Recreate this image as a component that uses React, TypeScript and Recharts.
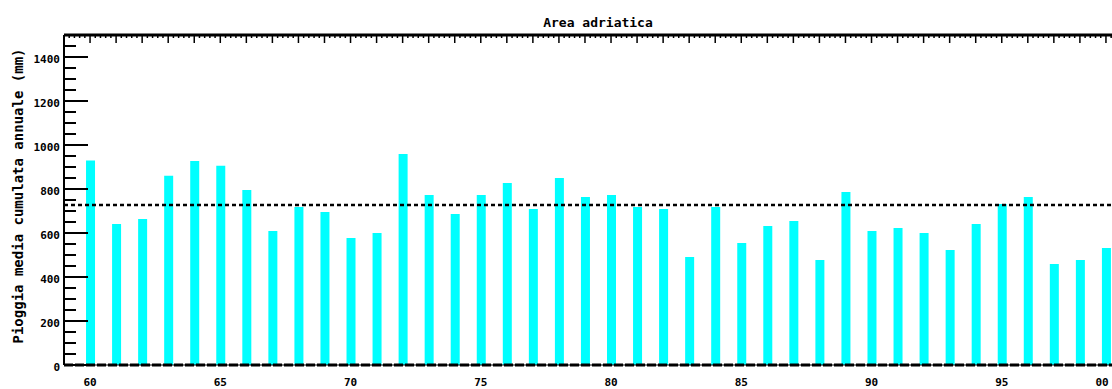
import React from 'react';
import { ComposedChart, Bar, XAxis, YAxis, ReferenceLine } from 'recharts';

// years 1960-1999, two-digit as on the plot
const YEARS = [
  60, 61, 62, 63, 64, 65, 66, 67, 68, 69,
  70, 71, 72, 73, 74, 75, 76, 77, 78, 79,
  80, 81, 82, 83, 84, 85, 86, 87, 88, 89,
  90, 91, 92, 93, 94, 95, 96, 97, 98, 99,
];
// annual cumulated mean rain (mm)
const RAIN = [
  930, 641, 664, 860, 927, 906, 795, 609, 718, 695,
  577, 600, 959, 773, 686, 773, 827, 709, 850, 764,
  773, 718, 709, 491, 718, 555, 632, 655, 477, 786,
  609, 623, 600, 523, 641, 732, 764, 459, 477, 532,
];
const MEAN_RAIN = 727;

const X_TICKS = [60, 65, 70, 75, 80, 85, 90, 95, 100];
const X_LABELS = ['60', '65', '70', '75', '80', '85', '90', '95', '00'];
const Y_LABELS = [0, 200, 400, 600, 800, 1000, 1200, 1400];

const TITLE = 'Area adriatica';
const Y_TITLE = 'Pioggia media cumulata annuale (mm)';

const FONT = '"DejaVu Sans Mono", monospace';

// minor ticks: every 50 mm on y, every 1/5 year on the top axis
const Y_MINOR = Array.from({ length: 31 }, (_, i) => i * 50);
const TOP_MINOR = Array.from({ length: 41 * 5 + 1 }, (_, i) => Math.round((59 + i / 5) * 10) / 10);

const data = YEARS.map((y, i) => ({ year: y, rain: RAIN[i] }));

const LeftTick = (props: any) => {
  const { x, y, payload } = props;
  const v = payload.value;
  const major = Y_LABELS.includes(v);
  return (
    <g>
      <line x1={x} x2={x + (major ? 24 : 12)} y1={y} y2={y} stroke="#000" strokeWidth={2} />
      {major && (
        <text x={x - 4} y={y + 2} textAnchor="end" dominantBaseline="central"
          fontFamily={FONT} fontWeight="bold" fontSize={11} fill="#000">
          {v}
        </text>
      )}
    </g>
  );
};

const RightTick = (props: any) => {
  const { x, y, payload } = props;
  const major = Y_LABELS.includes(payload.value);
  return <line x1={x} x2={x - (major ? 24 : 12)} y1={y} y2={y} stroke="#000" strokeWidth={2} />;
};

const TopTick = (props: any) => {
  const { x, y, payload } = props;
  const v = payload.value;
  const major = Math.abs(v - Math.round(v)) < 1e-6;
  return <line x1={x} x2={x} y1={y} y2={y + (major ? 8 : 3)} stroke="#000" strokeWidth={1.5} />;
};

const BottomTick = (props: any) => {
  const { x, y, payload } = props;
  const idx = X_TICKS.indexOf(payload.value);
  // last label sits at the clipped right edge
  const tx = Math.min(x, 1102);
  return (
    <text x={tx} y={y + 17} textAnchor="middle" dominantBaseline="central"
      fontFamily={FONT} fontWeight="bold" fontSize={11} fill="#000">
      {X_LABELS[idx]}
    </text>
  );
};

export default function App() {
  return (
    <div style={{ position: 'absolute', left: 0, top: 0, width: 1112, height: 389, overflow: 'hidden', background: '#fff' }}>
      <ComposedChart width={1140} height={389} data={data} margin={{ top: 34, right: 7, bottom: 23, left: 0 }}>
        <XAxis
          dataKey="year"
          type="number"
          domain={[59, 100]}
          ticks={X_TICKS}
          interval={0}
          height={1}
          tickSize={0}
          tickMargin={0}
          tickLine={false}
          tick={BottomTick}
          axisLine={{ stroke: '#000', strokeWidth: 1 }}
        />
        <XAxis
          xAxisId="top"
          dataKey="year"
          orientation="top"
          type="number"
          domain={[59, 100]}
          ticks={TOP_MINOR}
          interval={0}
          height={1}
          tickSize={0}
          tickMargin={0}
          tickLine={false}
          tick={TopTick}
          axisLine={{ stroke: '#000', strokeWidth: 3 }}
          label={{
            content: (p: any) => {
              const vb = p.viewBox || { x: 64, y: 34, width: 1069 };
              return (
                <text x={vb.x + vb.width / 2} y={22} textAnchor="middle" dominantBaseline="central"
                  fontFamily={FONT} fontWeight="bold" fontSize={13} fill="#000">
                  {TITLE}
                </text>
              );
            },
          }}
        />
        <YAxis
          type="number"
          domain={[0, 1500]}
          ticks={Y_MINOR}
          interval={0}
          width={64}
          tickSize={0}
          tickMargin={0}
          tickLine={false}
          tick={LeftTick}
          axisLine={{ stroke: '#000', strokeWidth: 2 }}
          label={{
            content: (p: any) => {
              const vb = p.viewBox || { x: 0, y: 35, width: 64, height: 330 };
              return (
                <text transform={`translate(18, ${vb.y + vb.height / 2 - 4}) rotate(-90)`}
                  textAnchor="middle" dominantBaseline="central"
                  fontFamily={FONT} fontWeight="bold" fontSize={14} fill="#000">
                  {Y_TITLE}
                </text>
              );
            },
          }}
        />
        <YAxis
          yAxisId="right"
          orientation="right"
          type="number"
          domain={[0, 1500]}
          ticks={Y_MINOR}
          interval={0}
          width={1}
          tickSize={0}
          tickMargin={0}
          tickLine={false}
          tick={RightTick}
          axisLine={{ stroke: '#000', strokeWidth: 2 }}
        />
        <ReferenceLine y={0} stroke="#000" strokeWidth={3} strokeDasharray="9 2" />
        <Bar dataKey="rain" fill="#00FFFF" barSize={9} isAnimationActive={false} />
        <ReferenceLine y={MEAN_RAIN} stroke="#000" strokeWidth={2.5} strokeDasharray="4 3" />
      </ComposedChart>
    </div>
  );
}
